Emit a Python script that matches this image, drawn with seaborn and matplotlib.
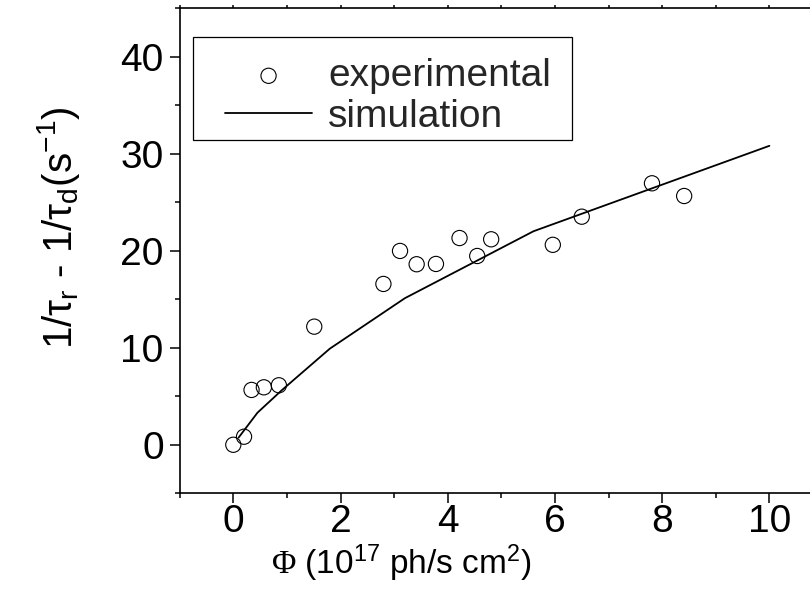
import matplotlib
matplotlib.use("Agg")
import matplotlib.pyplot as plt
from matplotlib.ticker import MultipleLocator
from matplotlib.patches import Rectangle
import seaborn as sns
import pandas as pd

# experimental data
exp_x = [0.0, 0.20, 0.34, 0.57, 0.85, 1.51, 2.80, 3.11, 3.42, 3.78, 4.22, 4.55, 4.81, 5.96, 6.50, 7.81, 8.41]
exp_y = [0.0, 0.83, 5.65, 5.92, 6.13, 12.17, 16.57, 19.97, 18.60, 18.63, 21.30, 19.45, 21.17, 20.60, 23.50, 26.94, 25.63]

# simulation curve
sim_x = [0.1, 0.45, 0.9, 1.8, 3.2, 5.6, 10.0]
sim_y = [0.75, 3.3, 5.6, 9.9, 15.1, 22.0, 30.8]

x_ticks = [0, 2, 4, 6, 8, 10]
y_ticks = [0, 10, 20, 30, 40]

sns.set_theme(style="ticks")
plt.rcParams["font.family"] = ["Liberation Sans", "DejaVu Sans"]
plt.rcParams["mathtext.fontset"] = "custom"
plt.rcParams["mathtext.rm"] = "Liberation Sans"
plt.rcParams["mathtext.it"] = "Liberation Sans:italic"
plt.rcParams["mathtext.sf"] = "Liberation Serif"

df_exp = pd.DataFrame({"x": exp_x, "y": exp_y})
df_sim = pd.DataFrame({"x": sim_x, "y": sim_y})

W, H = 810, 596
AX_L, AX_R, AX_T, AX_B = 179.7, 823.0, 8.0, 493.3
fig = plt.figure(figsize=(W / 100, H / 100), dpi=100)
fig.patch.set_facecolor("white")
ax = fig.add_axes([AX_L / W, (H - AX_B) / H, (AX_R - AX_L) / W, (AX_B - AX_T) / H])
ax.set_facecolor("white")


def axfrac(px, py):
    return ((px - AX_L) / (AX_R - AX_L), (AX_B - py) / (AX_B - AX_T))


sns.lineplot(data=df_sim, x="x", y="y", ax=ax, color="black", linewidth=1.3,
             sort=False, estimator=None)
sns.scatterplot(data=df_exp, x="x", y="y", ax=ax, marker="o", s=120,
                facecolor="none", edgecolor="black", linewidth=0.8, zorder=3)

ax.set_xlim(-1, 11)
ax.set_ylim(-5, 45)
ax.set_xticks(x_ticks)
ax.set_yticks(y_ticks)
ax.xaxis.set_minor_locator(MultipleLocator(1))
ax.yaxis.set_minor_locator(MultipleLocator(5))

for side in ["left", "bottom", "top", "right"]:
    ax.spines[side].set_visible(True)
    ax.spines[side].set_linewidth(1.2)
    ax.spines[side].set_color("black")

ax.tick_params(axis="both", which="major", direction="out", length=7, width=1.1,
               labelsize=28, color="black", labelcolor="black")
ax.tick_params(axis="both", which="minor", direction="out", length=3.6, width=1.1, color="black")
ax.tick_params(axis="x", which="major", pad=0.8)
ax.tick_params(axis="y", which="major", pad=4.5)
ax.xaxis.set_tick_params(which="both", top=True)
for t in ax.xaxis.get_major_ticks() + ax.xaxis.get_minor_ticks():
    t.tick2line.set_markersize(2.5)

ax.set_xlabel(r"$\mathsf{\Phi}$ (10$^{17}$ ph/s cm$^{2}$)", fontsize=24, color="black")
ax.set_ylabel(r"1/$\mathrm{\tau}_\mathrm{r}$ - 1/$\mathrm{\tau}_\mathrm{d}$(s$^{-1}$)", fontsize=29, color="black")
ax.xaxis.set_label_coords(axfrac(401, 0)[0], axfrac(0, 543)[1])
ax.yaxis.set_label_coords(axfrac(82, 0)[0], axfrac(0, 228)[1])

# legend frame
fx0, fy1 = axfrac(193, 37)
fx1, fy0 = axfrac(572, 140)
ax.add_patch(Rectangle((fx0, fy0), fx1 - fx0, fy1 - fy0, transform=ax.transAxes,
                       facecolor="white", edgecolor="black", linewidth=0.9, zorder=4))

h_line = ax.lines[0]
h_sc = ax.collections[0]
leg = ax.legend([h_sc, h_line], ["experimental", "simulation"], loc="upper left",
                bbox_to_anchor=axfrac(225, 58),
                borderaxespad=0, borderpad=0, fontsize=28, frameon=False,
                handlelength=2.24, handletextpad=0.41, labelspacing=0.12,
                scatterpoints=1)
leg.set_zorder(5)

fig.savefig("out.png", dpi=100)
